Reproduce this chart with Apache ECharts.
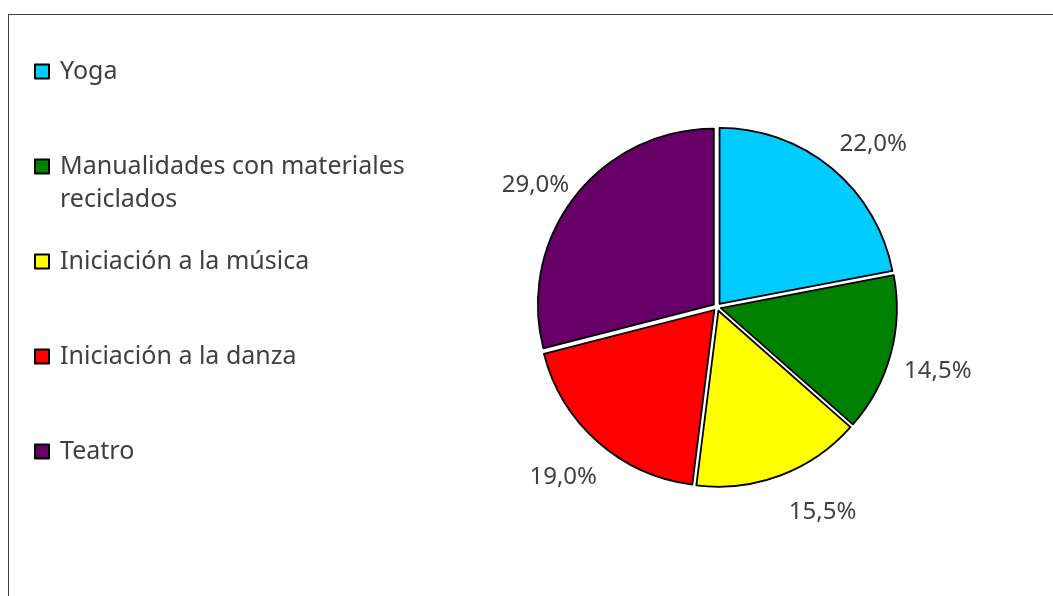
<!doctype html>
<html lang="es">
<head>
  <meta charset="utf-8">
  <title>Talleres</title>
  <script src="https://cdn.jsdelivr.net/npm/echarts@6/dist/echarts.min.js"></script>
  <style>
    html, body { margin: 0; padding: 0; width: 100%; height: 100%; overflow: hidden; background: #fff; }
    #frame { position: absolute; left: 8px; top: 14px; width: 1200px; height: 800px; border: 1px solid #404040; }
    #chart { position: absolute; left: 0; top: 0; width: 1053px; height: 596px; }
  </style>
</head>
<body>
  <div id="frame"></div>
  <div id="chart"></div>
  <script>
    // datos del gráfico
    var categorias = ['Yoga', 'Manualidades con materiales reciclados', 'Iniciación a la música', 'Iniciación a la danza', 'Teatro'];
    var porcentajes = [22.0, 14.5, 15.5, 19.0, 29.0];
    var colores = ['#00CCFF', '#008000', '#FFFF00', '#FF0000', '#660066'];
    // texto de la leyenda (la segunda categoría va en dos líneas)
    var textosLeyenda = ['Yoga', 'Manualidades con materiales\nreciclados', 'Iniciación a la música', 'Iniciación a la danza', 'Teatro'];
    // ajuste fino de la posición de las etiquetas (px)
    var ajusteEtiquetas = [[9, 15], [-2, 3], [24, -11], [-1, -3], [1, 20]];

    var fuente = '"Noto Sans", sans-serif';
    var gris = '#404040';

    var chart = echarts.init(document.getElementById('chart'));

    var datosPie = categorias.map(function (c, i) {
      return { name: c, value: porcentajes[i], selected: true, itemStyle: { color: colores[i] } };
    });
    var datosEtiquetas = categorias.map(function (c, i) {
      return { name: c, value: porcentajes[i], label: { offset: ajusteEtiquetas[i] } };
    });

    // una leyenda por elemento para fijar cada fila
    var leyendas = categorias.map(function (c, i) {
      var dosLineas = textosLeyenda[i].indexOf('\n') >= 0;
      var centro = 70 + i * 95;
      return {
        orient: 'vertical',
        left: 34,
        top: dosLineas ? centro - 49.5 : centro - 16.5,
        padding: 0,
        itemWidth: 14,
        itemHeight: 14,
        icon: 'rect',
        selectedMode: false,
        data: [c],
        // línea vacía delante para que la primera línea quede junto al cuadro
        formatter: function () { return dosLineas ? '\n' + textosLeyenda[i] : textosLeyenda[i]; },
        itemStyle: { borderColor: '#000', borderWidth: 2 },
        textStyle: {
          fontFamily: fuente,
          fontSize: 25,
          lineHeight: 33,
          color: gris,
          padding: [3, 0, 0, 6]
        }
      };
    });

    var option = {
      animation: false,
      backgroundColor: 'transparent',
      legend: leyendas,
      series: [
        {
          type: 'pie',
          center: [717, 307],
          radius: 176,
          startAngle: 90,
          clockwise: true,
          selectedMode: 'multiple',
          selectedOffset: 4,
          silent: true,
          label: { show: false },
          labelLine: { show: false },
          itemStyle: { borderColor: '#000', borderWidth: 1.8 },
          select: { itemStyle: { borderColor: '#000', borderWidth: 1.8 } },
          emphasis: { disabled: true },
          data: datosPie
        },
        {
          type: 'pie',
          center: [717, 307],
          radius: [204, 252],
          startAngle: 90,
          clockwise: true,
          silent: true,
          itemStyle: { color: 'transparent', borderWidth: 0 },
          emphasis: { disabled: true },
          labelLine: { show: false },
          label: {
            show: true,
            position: 'inside',
            fontFamily: fuente,
            fontSize: 24,
            color: gris,
            formatter: function (p) { return p.value.toFixed(1).replace('.', ',') + '%'; }
          },
          data: datosEtiquetas
        }
      ]
    };
    chart.setOption(option);
  </script>
</body>
</html>
